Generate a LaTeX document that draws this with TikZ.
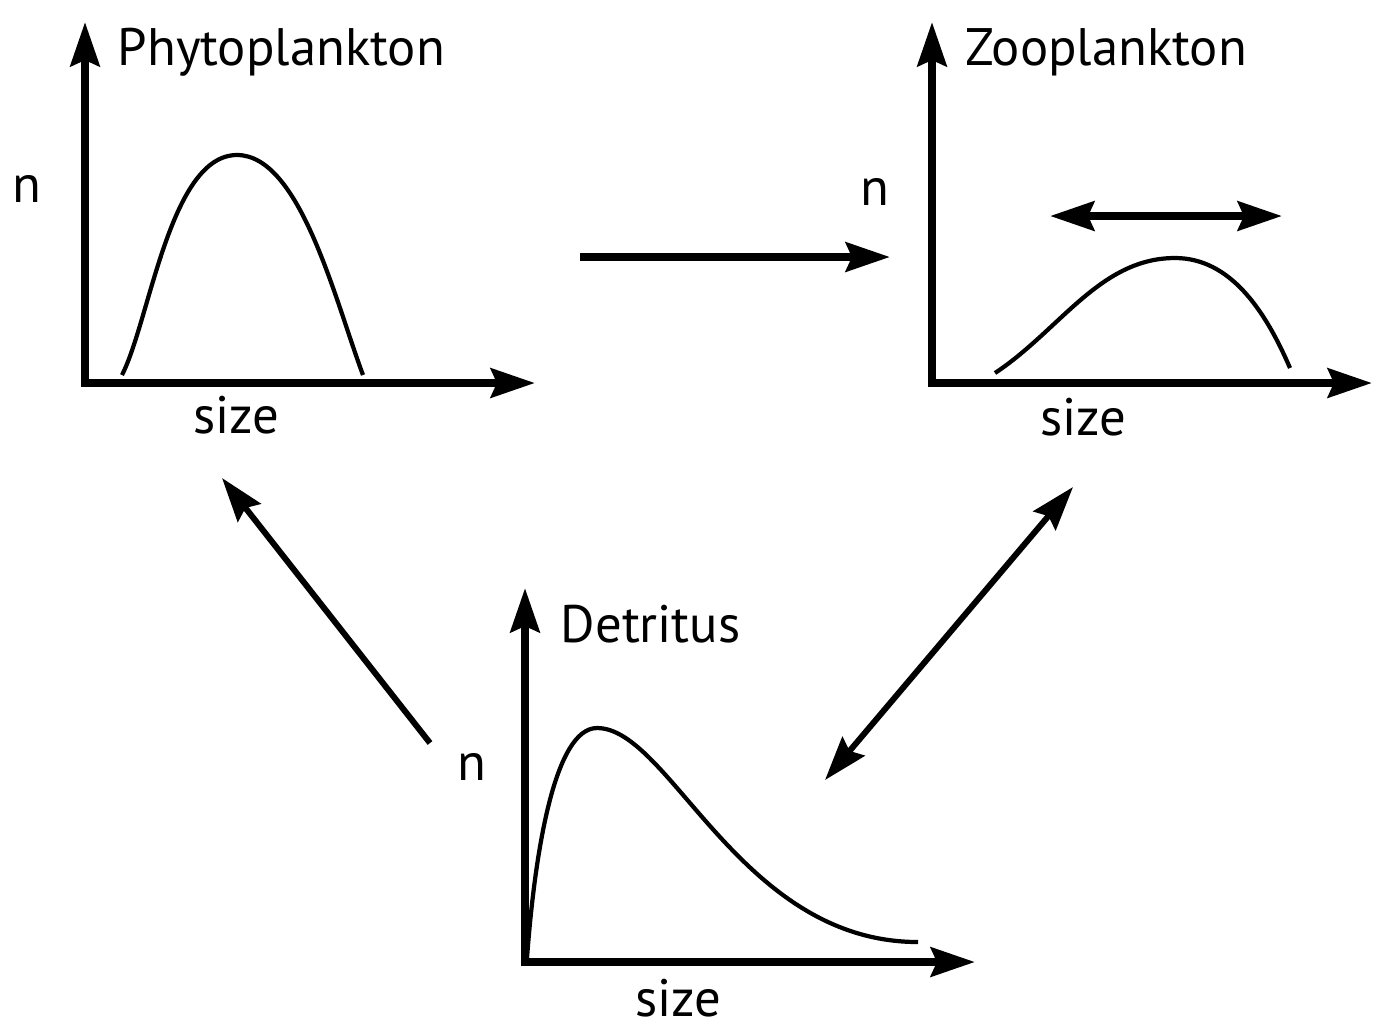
\documentclass[tikz,border=0pt]{standalone}
\usepackage{fontspec}
\setmainfont{PT Sans}
\usetikzlibrary{arrows.meta}

\tikzset{
    axis/.style={line width=2.3pt, -{Stealth[length=4.4mm, width=2.9mm, inset=0.6mm]}},
    flow/.style={line width=2.3pt, -{Stealth[length=4.4mm, width=2.9mm, inset=0.6mm]}},
    link/.style={line width=1.7pt, -{Stealth[length=4.4mm, width=2.9mm, inset=0.6mm]}},
    curve/.style={line width=1.2pt},
    label/.style={inner sep=0pt, anchor=base, font=\fontsize{15}{18}\selectfont},
    title/.style={label, anchor=base west}
}

\begin{document}
\begin{tikzpicture}[x=0.01cm, y=-0.01cm]
        \useasboundingbox (0,0) rectangle (1376,1026);

        % First Diagram: phytoplankton
        \begin{scope}[shift={(85, 383)}]
            % Define axes
            \coordinate (O1) at (0, 0);
            \coordinate (X1) at (450, 0);
            \coordinate (Y1) at (0, -361);

            % Draw the axes
            \draw[axis, line cap=rect] (O1) -- (X1);
            \draw[axis, line cap=rect] (O1) -- (Y1);

            % Draw the spectrum
            \draw[curve] (37, -8) .. controls (65, -63) and (85, -228) .. (152, -228)
                .. controls (215, -228) and (250, -83) .. (278, -8);

            % Labels
            \node[title] (phyto) at (32, -318) {Phytoplankton};
            \node[label] (phyto-n) at (-58, -181) {n};
            \node[label] (phyto-size) at (151, 50) {size};
        \end{scope}

        % Second Diagram: zooplankton
        \begin{scope}[shift={(932, 383)}]
            % Define axes
            \coordinate (O2) at (0, 0);
            \coordinate (X2) at (440, 0);
            \coordinate (Y2) at (0, -361);
            \coordinate (L2) at (118, -167);
            \coordinate (R2) at (350, -167);

            % Draw the axes
            \draw[axis, line cap=rect] (O2) -- (X2);
            \draw[axis, line cap=rect] (O2) -- (Y2);

            % Draw the spectrum
            \draw[curve] (63, -10) .. controls (128, -53) and (168, -125) .. (243, -125)
                .. controls (298, -125) and (333, -73) .. (358, -15);

            % Draw the double arrow
            \draw[flow, {Stealth[length=4.4mm, width=2.9mm, inset=0.6mm]}-{Stealth[length=4.4mm, width=2.9mm, inset=0.6mm]}] (L2) -- (R2);

            % Labels
            \node[title] (zoo) at (33, -318) {Zooplankton};
            \node[label] (zoo-n) at (-57, -178) {n};
            \node[label] (zoo-size) at (151, 52) {size};
        \end{scope}

        % Third Diagram: detritus
        \begin{scope}[shift={(525, 962)}]
            % Define axes
            \coordinate (O3) at (0, 0);
            \coordinate (X3) at (450, 0);
            \coordinate (Y3) at (0, -374);

            % Draw the axes
            \draw[axis, line cap=rect] (O3) -- (X3);
            \draw[axis, line cap=rect] (O3) -- (Y3);

            % Draw the spectrum
            \draw[curve] (2, -4) .. controls (10, -112) and (30, -234) .. (72, -234)
                .. controls (145, -234) and (215, -20) .. (393, -20);

            % Labels
            \node[title] (detritus) at (35, -320) {Detritus};
            \node[label] (detritus-n) at (-53, -182) {n};
            \node[label] (detritus-size) at (153, 54) {size};
        \end{scope}

        % Arrows between the diagrams
        \coordinate (A1) at (580, 257);
        \coordinate (A2) at (890, 257);
        \coordinate (B1) at (430, 743);
        \coordinate (B2) at (222, 478);
        \coordinate (C1) at (825, 780);
        \coordinate (C2) at (1073, 487);

        \draw[flow] (A1) -- (A2);
        \draw[link] (B1) -- (B2);
        \draw[link, {Stealth[length=4.4mm, width=2.9mm, inset=0.6mm]}-{Stealth[length=4.4mm, width=2.9mm, inset=0.6mm]}] (C1) -- (C2);

    \end{tikzpicture}
\end{document}
